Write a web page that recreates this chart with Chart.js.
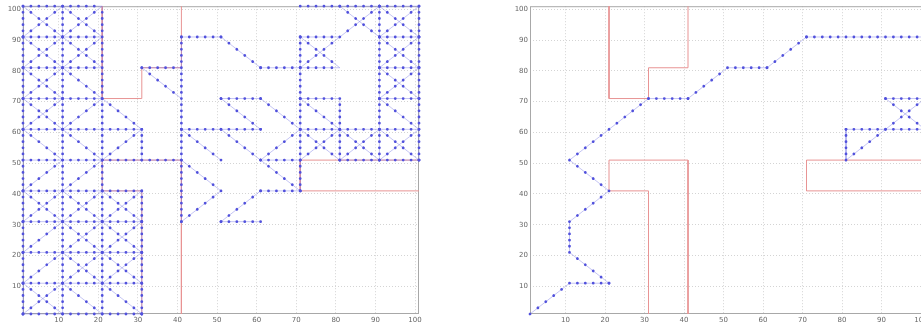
<!DOCTYPE html>
<html lang="en">
<head>
<meta charset="UTF-8">
<title>Grid path search</title>
<style>
  html, body { margin: 0; padding: 0; background: #fff; overflow: hidden; }
  #wrap { position: relative; width: 921px; height: 328px; overflow: hidden; }
  canvas { position: absolute; top: 0; filter: blur(0.4px); }
  #left { left: 0; }
  #right { left: 500px; }
</style>
<script src="https://cdn.jsdelivr.net/npm/chart.js@4/dist/chart.umd.min.js"></script>
</head>
<body>
<div id="wrap">
  <canvas id="left" width="440" height="328"></canvas>
  <canvas id="right" width="430" height="328"></canvas>
</div>
<script>
// axis ticks (both plots)
const xTicks = [10, 20, 30, 40, 50, 60, 70, 80, 90, 100];
const yTicks = [10, 20, 30, 40, 50, 60, 70, 80, 90, 100];

// obstacles (red outlines), as x,y corner lists
const obstacleTop = [[21, 101], [21, 71], [31, 71], [31, 81], [41, 81], [41, 101]];
const obstacleBottom = [[31, 1], [31, 41], [21, 41], [21, 51], [41, 51], [41, 1]];
const obstacleRight = [[101, 51], [71, 51], [71, 41], [101, 41]];

// left plot: explored edges [x1, y1, x2, y2]
const treeRows = [
  [1, 101, 21, 101], [71, 101, 101, 101],
  [1, 91, 21, 91], [41, 91, 51, 91], [71, 91, 81, 91], [91, 91, 101, 91],
  [1, 81, 21, 81], [31, 81, 41, 81], [61, 81, 81, 81], [91, 81, 101, 81],
  [1, 71, 21, 71], [51, 71, 61, 71], [71, 71, 81, 71], [91, 71, 101, 71],
  [1, 61, 31, 61], [41, 61, 61, 61], [71, 61, 101, 61],
  [1, 51, 41, 51], [61, 51, 71, 51], [81, 51, 101, 51],
  [1, 41, 31, 41], [61, 41, 71, 41],
  [1, 31, 31, 31], [51, 31, 61, 31],
  [1, 21, 31, 21], [1, 11, 31, 11], [1, 1, 31, 1]
];
const treeCols = [
  [1, 1, 1, 101], [11, 1, 11, 101], [21, 1, 21, 101],
  [31, 1, 31, 41], [31, 51, 31, 61], [41, 31, 41, 91],
  [71, 41, 71, 91], [81, 51, 81, 71], [91, 51, 91, 101], [101, 51, 101, 101]
];
const treeDiags = [
  [11, 81, 21, 71], [11, 61, 21, 71], [21, 71, 31, 61],
  [1, 61, 11, 51], [11, 61, 21, 51], [21, 51, 31, 61],
  [1, 41, 11, 51], [11, 41, 21, 51], [1, 21, 11, 31], [1, 11, 11, 21],
  [11, 11, 21, 1], [21, 11, 31, 1], [31, 81, 41, 71], [51, 91, 61, 81],
  [51, 71, 61, 61], [61, 71, 71, 61], [41, 61, 51, 51], [51, 61, 61, 51],
  [61, 51, 71, 61], [41, 51, 51, 41], [41, 31, 51, 41], [61, 51, 71, 41],
  [51, 31, 61, 41], [71, 71, 81, 61], [91, 71, 101, 61]
];
// cells crossed by both diagonals [x1, y1, x2, y2]
const treeCrossCells = [
  [1, 91, 11, 101], [11, 91, 21, 101], [1, 81, 11, 91], [11, 81, 21, 91],
  [1, 71, 11, 81], [1, 61, 11, 71], [1, 31, 11, 41], [11, 31, 21, 41],
  [21, 31, 31, 41], [11, 21, 21, 31], [21, 21, 31, 31], [11, 11, 21, 21],
  [21, 11, 31, 21], [1, 1, 11, 11], [71, 81, 81, 91], [81, 91, 91, 101],
  [91, 91, 101, 101], [91, 81, 101, 91], [91, 71, 101, 81], [71, 51, 81, 61],
  [81, 51, 91, 61], [91, 51, 101, 61]
];

// right plot: final path and a side branch
const pathX = [1, 11, 21, 11, 11, 21, 11, 31, 41, 51, 61, 71, 101];
const pathY = [1, 11, 11, 21, 31, 41, 51, 71, 71, 81, 81, 91, 91];
const branchSegs = [
  [81, 61, 81, 51], [81, 51, 91, 61], [91, 61, 101, 71],
  [91, 71, 101, 61], [81, 61, 101, 61], [91, 71, 101, 71]
];

const markColor = '#5151dc';
const thinColor = 'rgba(110,110,228,0.5)';
const redColor = '#e89494';
const family = 'DejaVu Sans';

function stepPx(chart, kind) {
  const sx = chart.scales.x, sy = chart.scales.y;
  if (!sx || !sx.width) return 8;
  const dx = Math.abs(sx.getPixelForValue(3) - sx.getPixelForValue(1));
  const dy = Math.abs(sy.getPixelForValue(3) - sy.getPixelForValue(1));
  return kind === 'h' ? dx : kind === 'v' ? dy : Math.hypot(dx, dy);
}

function toData(segs) {
  const out = [];
  segs.forEach(s => {
    out.push({x: s[0], y: s[1]}, {x: s[2], y: s[3]}, {x: s[2], y: null});
  });
  return out;
}

function splitKinds(segs) {
  const g = {h: [], v: [], d: []};
  segs.forEach(s => {
    const k = s[1] === s[3] ? 'h' : (s[0] === s[2] ? 'v' : 'd');
    g[k].push(s);
  });
  return g;
}

function markerSet(segs, kind) {
  return {
    data: toData(segs),
    showLine: true,
    spanGaps: false,
    pointRadius: 0,
    borderColor: markColor,
    borderWidth: 2.8,
    borderCapStyle: 'round',
    borderDash: ctx => {
      const s = stepPx(ctx.chart, kind);
      return [0.01, s - 0.01];
    },
    clip: false
  };
}

function lineSet(points, color, width) {
  return {
    data: points,
    showLine: true,
    spanGaps: false,
    pointRadius: 0,
    borderColor: color,
    borderWidth: width,
    clip: false
  };
}

function buildDatasets(segs) {
  const g = splitKinds(segs);
  const obs = [obstacleTop, obstacleBottom, obstacleRight].map(o =>
    lineSet(o.map(p => ({x: p[0], y: p[1]})), redColor, 1));
  return [
    markerSet(g.h, 'h'),
    markerSet(g.v, 'v'),
    markerSet(g.d, 'd'),
    lineSet(toData(segs), thinColor, 0.8),
    ...obs
  ];
}

const boxPlugin = {
  id: 'box',
  beforeDatasetsDraw(chart) {
    const {ctx, chartArea: a} = chart;
    ctx.save();
    ctx.strokeStyle = '#a8a8a8';
    ctx.lineWidth = 1;
    ctx.strokeRect(a.left + 0.5, a.top + 0.5, a.width - 1, a.height - 1);
    ctx.restore();
  }
};

function axis(ticks, fixSize) {
  return {
    type: 'linear',
    min: 1,
    max: 101,
    afterBuildTicks: s => { s.ticks = ticks.map(v => ({value: v})); },
    afterFit: fixSize,
    ticks: {
      font: {size: 7, family: family},
      color: '#666',
      padding: 2,
      maxRotation: 0,
      autoSkip: false
    },
    grid: {color: '#d4d4d4', drawTicks: false},
    border: {display: false, dash: [1, 2]}
  };
}

function makeChart(id, segs, yWidth, padRight) {
  return new Chart(document.getElementById(id), {
    type: 'scatter',
    data: {datasets: buildDatasets(segs)},
    options: {
      responsive: false,
      animation: false,
      events: [],
      layout: {padding: {top: 6, right: padRight, left: 0, bottom: 0}},
      plugins: {legend: {display: false}, tooltip: {enabled: false}},
      scales: {
        x: axis(xTicks, s => { s.height = 14; }),
        y: axis(yTicks, s => { s.width = yWidth; })
      }
    },
    plugins: [boxPlugin]
  });
}

// left: everything explored
const treeSegs = [...treeRows, ...treeCols, ...treeDiags];
treeCrossCells.forEach(c => {
  treeSegs.push([c[0], c[1], c[2], c[3]], [c[0], c[3], c[2], c[1]]);
});
makeChart('left', treeSegs, 23, 21);

// right: resulting path
const pathSegs = [];
for (let i = 1; i < pathX.length; i++) {
  pathSegs.push([pathX[i - 1], pathY[i - 1], pathX[i], pathY[i]]);
}
makeChart('right', [...pathSegs, ...branchSegs], 30, 5);
</script>
</body>
</html>
